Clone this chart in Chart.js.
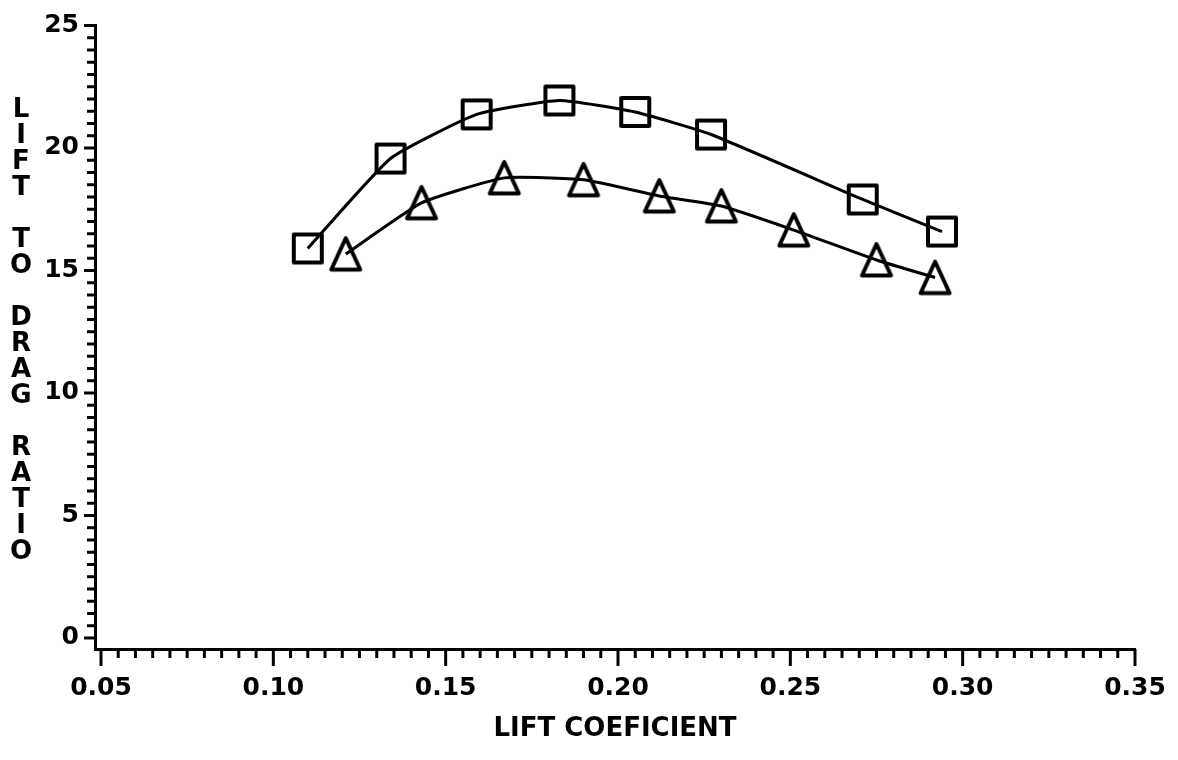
<!DOCTYPE html>
<html>
<head>
<meta charset="utf-8">
<script src="https://cdn.jsdelivr.net/npm/chart.js@4"></script>
<style>
  body { margin: 0; background: #fff; }
  #wrap { width: 1178px; height: 760px; }
</style>
</head>
<body>
<div id="wrap"><canvas id="myChart" width="1178" height="760"></canvas></div>
<script>
// lift coefficient vs lift-to-drag ratio, two configurations
var squareCl = [0.110, 0.134, 0.159, 0.183, 0.205, 0.227, 0.271, 0.294];
var squareLD = [15.90, 19.57, 21.37, 21.94, 21.47, 20.55, 17.90, 16.59];

var triangleCl = [0.121, 0.143, 0.167, 0.190, 0.212, 0.230, 0.251, 0.275, 0.292];
var triangleLD = [15.67, 17.76, 18.78, 18.70, 18.04, 17.63, 16.65, 15.43, 14.71];

var xTicks = [0.05, 0.10, 0.15, 0.20, 0.25, 0.30, 0.35];
var yTicks = [0, 5, 10, 15, 20, 25];
var xMinorStep = 0.005;
var yMinorStep = 0.5;

var xTitle = 'LIFT COEFICIENT';
var yTitle = 'LIFT TO DRAG RATIO';

var tickFont = { family: '"DejaVu Sans", sans-serif', size: 25, weight: 'bold' };

// hollow marker symbols
function squareSymbol() {
    var c = document.createElement('canvas');
    c.width = 36; c.height = 36;
    var g = c.getContext('2d');
    g.strokeStyle = '#000';
    g.lineWidth = 4;
    g.lineJoin = 'round';
    g.strokeRect(4, 4, 28, 28);
    return c;
}

function triangleSymbol() {
    var c = document.createElement('canvas');
    c.width = 36; c.height = 40;
    var g = c.getContext('2d');
    g.strokeStyle = '#000';
    g.lineWidth = 4;
    g.lineJoin = 'round';
    g.beginPath();
    g.moveTo(18, 4);
    g.lineTo(32.5, 35.5);
    g.lineTo(3.5, 35.5);
    g.closePath();
    g.stroke();
    return c;
}

function toPoints(xs, ys) {
    return xs.map(function (v, i) { return { x: v, y: ys[i] }; });
}

// small/large tick marks and the stacked vertical axis title
var axisMarks = {
    id: 'axisMarks',
    afterDraw: function (chart) {
        var ctx = chart.ctx;
        var xs = chart.scales.x, ys = chart.scales.y;
        var area = chart.chartArea;
        ctx.save();
        ctx.strokeStyle = '#000';
        ctx.lineWidth = 3;
        ctx.lineCap = 'butt';

        var n = Math.round((xTicks[xTicks.length - 1] - xTicks[0]) / xMinorStep);
        for (var i = 0; i <= n; i++) {
            var px = xs.getPixelForValue(xTicks[0] + i * xMinorStep);
            var len = (i % 10 === 0) ? 17 : 9;
            ctx.beginPath();
            ctx.moveTo(px, area.bottom);
            ctx.lineTo(px, area.bottom + len);
            ctx.stroke();
        }

        var m = Math.round((yTicks[yTicks.length - 1] - yTicks[0]) / yMinorStep);
        for (var j = 0; j <= m; j++) {
            var py = ys.getPixelForValue(yTicks[0] + j * yMinorStep);
            var ylen = (j % 10 === 0) ? 11 : 8;
            ctx.beginPath();
            ctx.moveTo(area.left, py);
            ctx.lineTo(area.left - ylen, py);
            ctx.stroke();
        }

        ctx.fillStyle = '#000';
        ctx.font = 'bold 26px "DejaVu Sans", sans-serif';
        ctx.textAlign = 'center';
        ctx.textBaseline = 'middle';
        for (var k = 0; k < yTitle.length; k++) {
            if (yTitle[k] !== ' ') ctx.fillText(yTitle[k], 21, 110 + 26 * k);
        }
        ctx.restore();
    }
};

var ctx = document.getElementById('myChart').getContext('2d');
var chart = new Chart(ctx, {
    type: 'scatter',
    data: {
        datasets: [
            {
                label: 'squares',
                data: toPoints(squareCl, squareLD),
                showLine: true,
                borderColor: '#000',
                borderWidth: 3,
                tension: 0.15,
                pointStyle: squareSymbol(),
                pointBackgroundColor: 'rgba(0,0,0,0)',
                pointBorderColor: '#000'
            },
            {
                label: 'triangles',
                data: toPoints(triangleCl, triangleLD),
                showLine: true,
                borderColor: '#000',
                borderWidth: 3,
                tension: 0.15,
                pointStyle: triangleSymbol(),
                pointBackgroundColor: 'rgba(0,0,0,0)',
                pointBorderColor: '#000'
            }
        ]
    },
    options: {
        responsive: false,
        animation: false,
        layout: { autoPadding: false, padding: { left: 0, right: 43, top: 25.5, bottom: 0 } },
        plugins: {
            legend: { display: false },
            tooltip: { enabled: false }
        },
        scales: {
            x: {
                type: 'linear',
                min: 0.04826,
                max: 0.35,
                grid: { display: false, drawTicks: false },
                border: { display: true, color: '#000', width: 3 },
                afterBuildTicks: function (scale) {
                    scale.ticks = xTicks.map(function (v) { return { value: v }; });
                },
                afterFit: function (scale) {
                    // fixed band under the plot; labels may overhang the sides
                    scale.height = 111;
                    scale.paddingLeft = 0;
                    scale.paddingRight = 0;
                },
                ticks: {
                    autoSkip: false,
                    maxRotation: 0,
                    padding: 24,
                    color: '#000',
                    font: tickFont,
                    callback: function (v) { return v.toFixed(2); }
                },
                title: {
                    display: true,
                    text: xTitle,
                    color: '#000',
                    padding: { top: 0, bottom: 15 },
                    font: { family: '"DejaVu Sans", sans-serif', size: 26, weight: 'bold' }
                }
            },
            y: {
                type: 'linear',
                min: -0.45,
                max: 25,
                grid: { display: false, drawTicks: false },
                border: { display: true, color: '#000', width: 3 },
                afterBuildTicks: function (scale) {
                    scale.ticks = yTicks.map(function (v) { return { value: v }; });
                },
                afterFit: function (scale) {
                    scale.width = 95;
                    scale.paddingTop = 0;
                    scale.paddingBottom = 0;
                },
                ticks: {
                    autoSkip: false,
                    padding: 16,
                    color: '#000',
                    font: tickFont,
                    callback: function (v) { return String(v); }
                }
            }
        }
    },
    plugins: [axisMarks]
});
</script>
</body>
</html>
